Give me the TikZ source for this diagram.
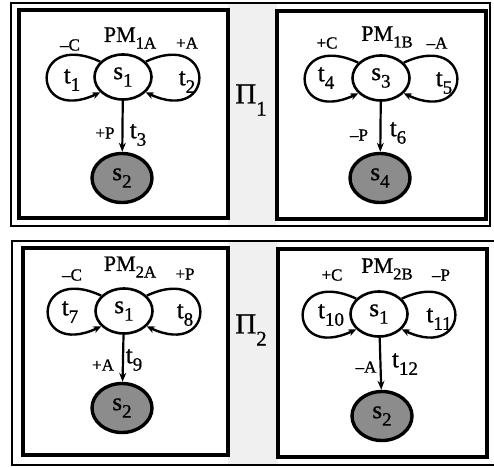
\documentclass[tikz,border=0pt]{standalone}
\usepackage{fontspec}
\usepackage{graphicx}
\setmainfont{Liberation Serif}[FakeBold=0.9]
\usetikzlibrary{shapes.geometric,arrows.meta}
% lowered, reduced subscript
\newcommand\lo[1]{\raisebox{-0.3em}{\scalebox{0.76}{#1}}}
\newcommand\deep[1]{\raisebox{-0.42em}{\scalebox{0.72}{#1}}}
\begin{document}
\begin{tikzpicture}[x=1pt,y=1pt,
  frame/.style={draw, line width=1.8pt},
  panel/.style={draw, line width=3.2pt},
  state/.style={ellipse, draw, line width=2.6pt, minimum width=57pt, minimum height=45pt,
                inner sep=0pt, font=\fontsize{25}{25}\selectfont},
  final/.style={state, line width=3.4pt, fill=black!45, minimum width=60pt, minimum height=49pt},
  selfloop/.style={line width=2.4pt, -{Stealth[length=8pt,width=7pt]}},
  trans/.style={line width=2.2pt, -{Stealth[length=9pt,width=7pt]}},
  tlab/.style={font=\fontsize{25}{25}\selectfont, inner sep=0pt},
  pmlab/.style={font=\fontsize{22}{22}\selectfont, inner sep=0pt},
  sign/.style={font=\fontsize{17}{17}\selectfont, inner sep=0pt},
  pilab/.style={font=\fontsize{29}{29}\selectfont, inner sep=0pt},
]
\useasboundingbox (0,0) rectangle (494,467);

% stippled strips between the panels
\fill[black!6] (228,241) rectangle (277,464);
\fill[black!6] (228,2) rectangle (278,226);

% outer frames
\draw[frame] (11,464) rectangle (490,241);
\draw[frame] (12,226) rectangle (497,2);

% panels
\draw[panel] (19,457) rectangle (228,249);
\draw[panel] (277,456) rectangle (486,248);
\draw[panel] (23,219) rectangle (228,12);
\draw[panel] (278,218) rectangle (487,10);

% labels of the two groups
\node[pilab] (pi1) at (251,367) {Π\deep{1}};
\node[pilab] (pi2) at (251,137) {Π\deep{2}};

% ---- PM 1A ----
\node[state] (a1) at (123,390) {s\lo{1}};
\node[final] (a2) at (122,289) {s\lo{2}};
\draw[selfloop] (a1.146) to[out=155,in=205,distance=78pt] (a1.214);
\draw[selfloop] (a1.34) to[out=25,in=-25,distance=78pt] (a1.-34);
\draw[trans] (a1) -- (a2);
\node[pmlab] (a0) at (130,429) {PM\lo{1A}};
\node[sign] (am) at (70,422) {–C};
\node[sign] (ap) at (187,424) {+A};
\node[tlab] (at1) at (72,387) {t\lo{1}};
\node[tlab] (at2) at (187,385) {t\lo{2}};
\node[sign] (aq) at (105,334) {+P};
\node[tlab] (at3) at (138,332) {t\lo{3}};

% ---- PM 1B ----
\node[state] (b1) at (381,389) {s\lo{3}};
\node[final] (b2) at (380,289) {s\lo{4}};
\draw[selfloop] (b1.146) to[out=155,in=205,distance=78pt] (b1.214);
\draw[selfloop] (b1.34) to[out=25,in=-25,distance=78pt] (b1.-34);
\draw[trans] (b1) -- (b2);
\node[pmlab] (b0) at (387,430) {PM\lo{1B}};
\node[sign] (bm) at (327,424) {+C};
\node[sign] (bp) at (437,424) {–A};
\node[tlab] (bt4) at (326,389) {t\lo{4}};
\node[tlab] (bt5) at (444,384) {t\lo{5}};
\node[sign] (bq) at (359,332) {–P};
\node[tlab] (bt6) at (398,334) {t\lo{6}};

% ---- PM 2A ----
\node[state] (c1) at (124,156) {s\lo{1}};
\node[final] (c2) at (122,59) {s\lo{2}};
\draw[selfloop] (c1.146) to[out=155,in=205,distance=78pt] (c1.214);
\draw[selfloop] (c1.34) to[out=25,in=-25,distance=78pt] (c1.-34);
\draw[trans] (c1) -- (c2);
\node[pmlab] (c0) at (130,200) {PM\lo{2A}};
\node[sign] (cm) at (72,192) {–C};
\node[sign] (cp) at (185,193) {+P};
\node[tlab] (ct7) at (70,155) {t\lo{7}};
\node[tlab] (ct8) at (185,152) {t\lo{8}};
\node[sign] (cq) at (103,102) {+A};
\node[tlab] (ct9) at (134,107) {t\lo{9}};

% ---- PM 2B ----
\node[state] (d1) at (379,153) {s\lo{1}};
\node[final] (d2) at (382,51) {s\lo{2}};
\draw[selfloop] (d1.146) to[out=155,in=205,distance=78pt] (d1.214);
\draw[selfloop] (d1.34) to[out=25,in=-25,distance=78pt] (d1.-34);
\draw[trans] (d1) -- (d2);
\node[pmlab] (d0) at (387,198) {PM\lo{2B}};
\node[sign] (dm) at (332,192) {+C};
\node[sign] (dp) at (441,192) {–P};
\node[tlab] (dt10) at (331,152) {t\lo{10}};
\node[tlab] (dt11) at (439,148) {t\lo{11}};
\node[sign] (dq) at (366,100) {–A};
\node[tlab] (dt12) at (405,103) {t\lo{12}};
\end{tikzpicture}
\end{document}
